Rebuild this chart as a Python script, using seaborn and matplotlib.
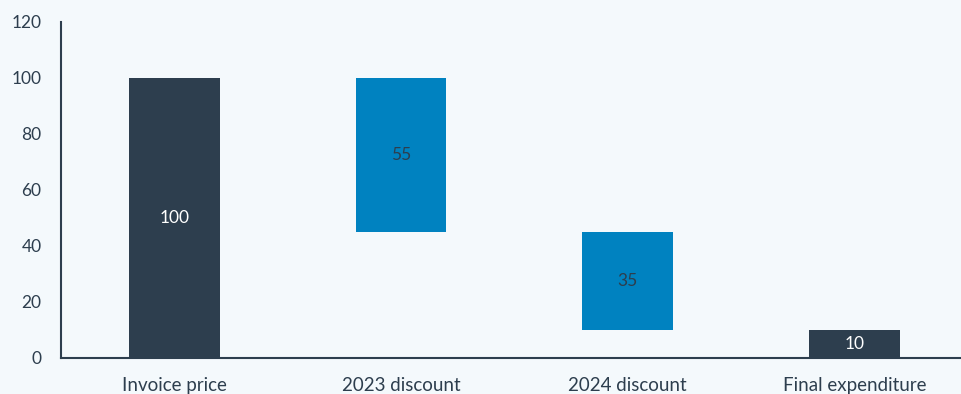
import matplotlib
matplotlib.use("Agg")
import matplotlib.pyplot as plt
import seaborn as sns
import pandas as pd

categories = ["Invoice price", "2023 discount", "2024 discount", "Final expenditure"]
values = [100, 55, 35, 10]
bottoms = [0, 45, 10, 0]
kinds = ["total", "step", "step", "total"]

BG = "#f4f9fc"
DARK = "#2d3e4e"
BLUE = "#0082c0"
bar_colors = {"total": DARK, "step": BLUE}
label_colors = {"total": "white", "step": DARK}

sns.set_theme(style="white")
plt.rcParams["font.family"] = ["Lato", "DejaVu Sans"]

df = pd.DataFrame({"category": categories, "value": values, "bottom": bottoms, "kind": kinds})

fig = plt.figure(figsize=(9.62, 3.94), dpi=100, facecolor=BG)
ax = fig.add_axes([61 / 962, 36 / 394, 901 / 962, 336 / 394])
ax.set_facecolor(BG)

sns.barplot(data=df, x="category", y="value", bottom=df["bottom"].values,
            order=categories, color=DARK, width=0.4, errorbar=None, ax=ax,
            saturation=1, linewidth=0)

for patch, k in zip(ax.patches, kinds):
    patch.set_facecolor(bar_colors[k])
    patch.set_edgecolor(bar_colors[k])

texts = ax.bar_label(ax.containers[0], labels=[str(v) for v in values],
                     label_type="center", fontsize=12.5)
for t, k in zip(texts, kinds):
    t.set_color(label_colors[k])

ax.set_xlim(-0.5, 3.474)
ax.set_ylim(0, 120)
ax.set_yticks([0, 20, 40, 60, 80, 100, 120])
ax.set_xlabel("")
ax.set_ylabel("")
for s in ["top", "right"]:
    ax.spines[s].set_visible(False)
for s in ["left", "bottom"]:
    ax.spines[s].set_color(DARK)
    ax.spines[s].set_linewidth(1.5)
ax.tick_params(axis="y", length=0, pad=14, labelsize=12.5, labelcolor=DARK)
ax.tick_params(axis="x", length=0, pad=13.5, labelsize=13.5, labelcolor=DARK)

fig.savefig("out.png", dpi=100, facecolor=BG)
